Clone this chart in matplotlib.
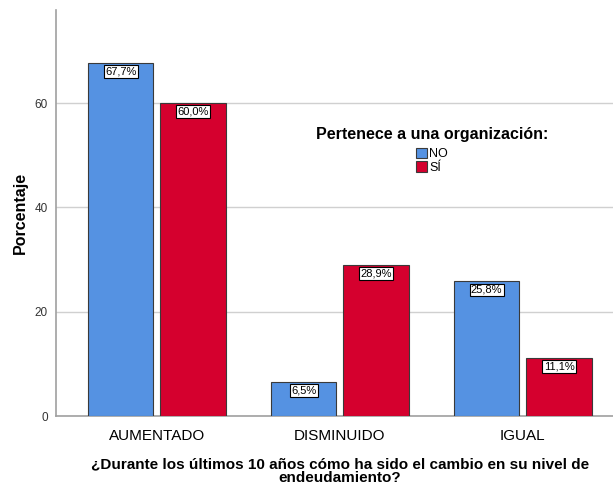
import numpy as np
import matplotlib
matplotlib.use('Agg')
from matplotlib import pyplot as plt

plt.rcParams['font.family'] = ['Liberation Sans', 'DejaVu Sans']

#data
categories = ['AUMENTADO', 'DISMINUIDO', 'IGUAL']
groups = ['NO', 'SÍ']
no_values = [67.7, 6.5, 25.8]
si_values = [60.0, 28.9, 11.1]
colors = ['#5592E2', '#D5002E']

fig = plt.figure(figsize=(6.13, 4.86), dpi=100)
ax = fig.add_axes([0.0914, 0.144, 0.926, 0.835])

x = np.arange(len(categories))
width = 0.358
offset = 0.198

bars_no = ax.bar(x - offset, no_values, width, color=colors[0], edgecolor='#3a3a3a',
                 linewidth=0.8, label=groups[0], zorder=3)
bars_si = ax.bar(x + offset, si_values, width, color=colors[1], edgecolor='#3a3a3a',
                 linewidth=0.8, label=groups[1], zorder=3)

#value labels in boxes at the top of each bar
for bars, vals in [(bars_no, no_values), (bars_si, si_values)]:
    for b, v in zip(bars, vals):
        ax.annotate(f'{v:.1f}%'.replace('.', ','),
                    (b.get_x() + b.get_width() / 2, v),
                    xytext=(0, -2.5), textcoords='offset points',
                    ha='center', va='top', fontsize=8, zorder=5,
                    bbox=dict(boxstyle='square,pad=0.12', fc='white', ec='black', lw=0.8))

ax.set_xlim(-0.551, 2.551)
ax.set_ylim(0, 77.8)
ax.set_yticks([0, 20, 40, 60])
ax.set_xticks(x)
ax.set_xticklabels(categories, fontsize=11)
ax.tick_params(axis='y', labelsize=8.5, length=0, pad=6, colors='#333333')
ax.tick_params(axis='x', length=0, pad=9)
ax.yaxis.grid(True, color='#d0d0d0', linewidth=1, zorder=0)
ax.set_axisbelow(True)

for s in ['top', 'right']:
    ax.spines[s].set_visible(False)
for s in ['left', 'bottom']:
    ax.spines[s].set_color('#a0a0a0')
    ax.spines[s].set_linewidth(1.2)

ax.set_ylabel('Porcentaje', fontsize=11.5, fontweight='bold', labelpad=5)
ax.set_xlabel('¿Durante los últimos 10 años cómo ha sido el cambio en su nivel de\nendeudamiento?',
              fontsize=11, fontweight='bold', labelpad=11, linespacing=0.9)

leg = ax.legend(title='Pertenece a una organización:', loc='upper center',
                bbox_to_anchor=(0.662, 0.74), frameon=False, fontsize=9,
                title_fontproperties={'weight': 'bold', 'size': 11.5},
                handlelength=0.9, handleheight=0.9, handletextpad=0.2,
                labelspacing=0.1)
leg._legend_box.sep = 4
for h in leg.legend_handles:
    h.set_edgecolor('#3a3a3a')

plt.savefig('out.png', dpi=100)
